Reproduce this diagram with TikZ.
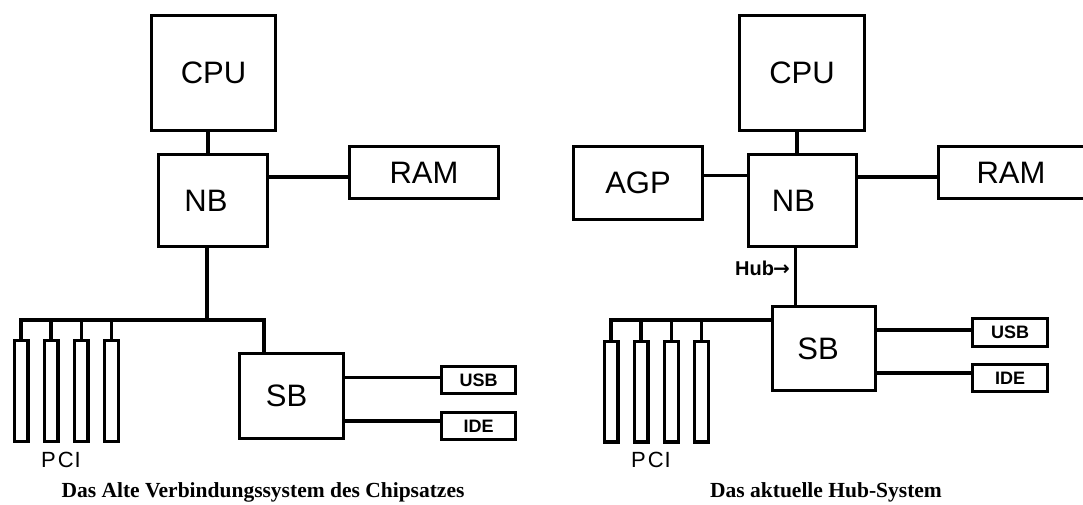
\documentclass[tikz,border=0pt]{standalone}
\usepackage{fontspec}
\setmainfont{Liberation Sans}
\newfontfamily\capfont{Liberation Serif}
\newfontfamily\arrfont{DejaVu Sans}
\begin{document}
\begin{tikzpicture}[x=1pt,y=-1pt,
  lw/.style={line width=3.4pt},
  box/.style={draw, lw, rectangle, inner sep=0pt, outer sep=0pt,
    font=\fontsize{31}{36}\selectfont},
  smallbox/.style={draw, lw, rectangle, inner sep=0pt, outer sep=0pt,
    font=\bfseries\fontsize{18}{20}\selectfont},
  slot/.style={draw, lw, rectangle, inner sep=0pt, outer sep=0pt,
    minimum width=13.6pt, minimum height=100.6pt},
  wire/.style={lw, line cap=rect},
  pcilabel/.style={font=\fontsize{22}{24}\selectfont, inner sep=0pt},
  caption/.style={font=\capfont\bfseries\fontsize{21.5}{24}\selectfont, inner sep=0pt, anchor=base}
]
\useasboundingbox (0,0) rectangle (1083,504);
\fill[white] (0,0) rectangle (1083,504);

% ---------------- left diagram ----------------
\node[box, minimum width=123.6pt, minimum height=114.6pt] (cpuL) at (213.5,73) {CPU};
\node[box, minimum width=108.6pt, minimum height=91.6pt] (nbL) at (213,200.5) {NB\kern14pt};
\node[box, minimum width=148.6pt, minimum height=51.6pt] (ramL) at (424,172.5) {RAM};
\node[box, minimum width=103.6pt, minimum height=84.6pt] (sbL) at (291.5,396) {SB\kern10pt};
\node[smallbox, minimum width=73.6pt, minimum height=26.6pt] (usbL) at (478.5,380) {USB};
\node[smallbox, minimum width=73.6pt, minimum height=26.6pt] (ideL) at (478.5,426) {IDE};
\node[slot] (pL1) at (21,391) {};
\node[slot] (pL2) at (51,391) {};
\node[slot] (pL3) at (81.3,391) {};
\node[slot] (pL4) at (111.5,391) {};
\node[pcilabel] (pciL) at (61,460) {P\kern2pt C\kern1pt I};
\node[caption] (capL) at (263,497) {Das Alte Verbindungssystem des Chipsatzes};

\coordinate (cnL) at (208,0);
\coordinate (nsL) at (207,320);
\coordinate (sbsL) at (264,0);
\draw[wire] (cpuL.south -| cnL) -- (nbL.north -| cnL);
\draw[wire] (nbL.east |- 0,177) -- (ramL.west |- 0,177);
\draw[wire] (nbL.south -| nsL) -- (nsL);
\draw[wire] (pL1.north) |- (nsL) -| (sbL.north -| sbsL);
\draw[wire] (pL2.north) -- (pL2.north |- nsL);
\draw[wire] (pL3.north) -- (pL3.north |- nsL);
\draw[wire] (pL4.north) -- (pL4.north |- nsL);
\draw[wire] (sbL.east |- 0,377.5) -- (usbL.west |- 0,377.5);
\draw[wire] (sbL.east |- 0,421) -- (ideL.west |- 0,421);

% ---------------- right diagram ----------------
\node[box, minimum width=124.6pt, minimum height=114.6pt] (cpuR) at (802,73) {CPU};
\node[box, minimum width=107.6pt, minimum height=91.6pt] (nbR) at (802.5,200.5) {NB\kern18pt};
\node[box, minimum width=128.6pt, minimum height=72.6pt] (agpR) at (638,183) {AGP};
\node[box, minimum width=154.6pt, minimum height=51.6pt] (ramR) at (1016,172.5) {RAM\kern10pt};
\node[box, minimum width=102.6pt, minimum height=83.6pt] (sbR) at (824,348.5) {SB\kern12pt};
\node[smallbox, minimum width=74.6pt, minimum height=27.6pt] (usbR) at (1010,332.5) {USB};
\node[smallbox, minimum width=74.6pt, minimum height=26.6pt] (ideR) at (1010,378) {IDE};
\node[slot] (pR1) at (611,391.5) {};
\node[slot] (pR2) at (641,391.5) {};
\node[slot] (pR3) at (671.5,391.5) {};
\node[slot] (pR4) at (701.5,391.5) {};
\node[pcilabel] (pciR) at (651,460) {P\kern2pt C\kern1pt I};
\node[caption] (capR) at (826,497) {Das aktuelle Hub-System};
\node[font=\bfseries\fontsize{20}{22}\selectfont, inner sep=0pt, anchor=east] (hubR) at (790,268) {Hub{\arrfont\bfseries\kern-1pt →}};

\coordinate (cnR) at (797,0);
\coordinate (nsR) at (795.5,0);
\coordinate (busR) at (0,320);
\draw[wire] (cpuR.south -| cnR) -- (nbR.north -| cnR);
\draw[wire] (agpR.east |- 0,175.5) -- (nbR.west |- 0,175.5);
\draw[wire] (nbR.east |- 0,177) -- (ramR.west |- 0,177);
\draw[wire] (nbR.south -| nsR) -- (sbR.north -| nsR);
\draw[wire] (pR1.north) |- (sbR.west |- busR);
\draw[wire] (pR2.north) -- (pR2.north |- busR);
\draw[wire] (pR3.north) -- (pR3.north |- busR);
\draw[wire] (pR4.north) -- (pR4.north |- busR);
\draw[wire] (sbR.east |- 0,330) -- (usbR.west |- 0,330);
\draw[wire] (sbR.east |- 0,373) -- (ideR.west |- 0,373);
\end{tikzpicture}
\end{document}
